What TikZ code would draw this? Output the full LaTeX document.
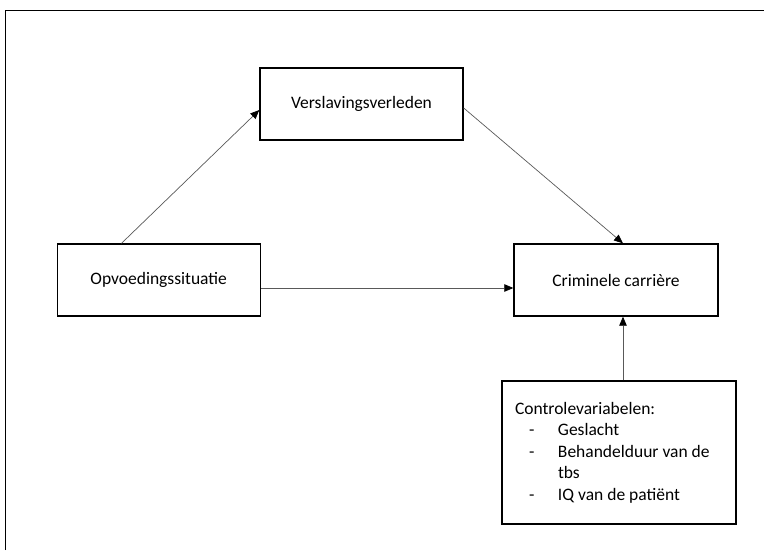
\documentclass[tikz,border=0pt]{standalone}
\usepackage{fontspec}
\setmainfont{Carlito}
\usetikzlibrary{arrows.meta,calc}
\begin{document}
\begin{tikzpicture}[x=1pt,y=-1pt,
  box/.style={draw=black,line width=1.4pt,minimum width=203pt,minimum height=72pt,inner sep=0pt,font=\fontsize{17.5}{21}\selectfont},
  conn/.style={draw=black!65,line width=0.7pt,-{Triangle[length=9pt,width=7.5pt,fill=black,color=black]}},
  frame/.style={draw=black,line width=1.6pt}]
\useasboundingbox (0,0) rectangle (764,550);
\draw[frame] (5.5,550) -- (5.5,10.5) -- (764,10.5);
\node[box] (vers) at (361.5,104) {Verslavingsverleden};
\node[box] (opv) at (158.7,280) {Opvoedingssituatie};
\node[box,minimum width=204pt] (crim) at (616,280) {Criminele carrière};
\node[box,minimum width=234pt,minimum height=143pt,align=left,anchor=center,
  font=\fontsize{17.5}{21.5}\selectfont] (ctrl) at (619,452.5)
  {\makebox[208pt][l]{Controlevariabelen:}\\
   \makebox[43pt][l]{\hspace{14pt}-}Geslacht\\
   \makebox[43pt][l]{\hspace{14pt}-}Behandelduur van de\\
   \makebox[43pt][l]{}tbs\\
   \makebox[43pt][l]{\hspace{14pt}-}IQ van de patiënt};
\draw[conn] ($(opv.north west)+(65,0)$) -- ($(vers.west)+(0,6)$);
\draw[conn] ($(vers.east)+(0,4)$) -- ($(crim.north)+(7,0)$);
\draw[conn] ($(opv.east)+(0,8)$) -- ($(crim.west)+(0,8)$);
\draw[conn] ($(ctrl.north)+(4,0)$) -- ($(crim.south)+(7,0)$);
\end{tikzpicture}
\end{document}
